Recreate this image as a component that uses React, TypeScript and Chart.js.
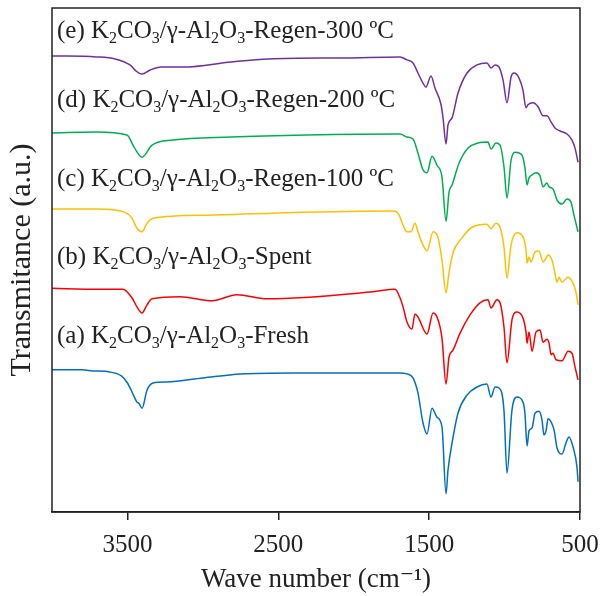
import { useEffect, useRef } from "react";
import { Chart, registerables } from "chart.js";
Chart.register(...registerables);

// (a) Fresh
const waveA = [4000,3800,3730,3620,3540,3500,3460,3437,3425,3403,3370,3330,3240,3000,2750,2400,1700,1647,1607,1574,1541,1514,1481,1448,1415,1388,1375,1348,1309,1249,1183,1117,1090,1063,1037,1004,984,951,918,878,865,851,838,818,798,772,752,739,725,712,692,672,652,619,593,573,546,520,513];
const transA = [28.2,28.2,28.0,27.8,27.0,25.6,23.2,21.8,21.6,20.6,24.2,25.6,25.8,26.6,27.4,27.6,27.6,27.4,26.6,23.6,17.7,15.5,20.6,18.8,16.9,3.6,8.3,13.7,19.6,23.2,24.8,25.4,22.8,24.8,24.6,20.2,7.7,20.2,22.8,21.8,19.6,13.1,16.1,16.7,19.6,20.0,18.3,15.3,16.1,18.5,17.9,16.3,12.7,11.5,13.7,14.9,12.9,8.9,6.0];

// (b) Spent
const waveB = [4000,3700,3530,3470,3437,3403,3370,3337,3151,2939,2774,2575,1872,1726,1693,1673,1647,1614,1594,1574,1514,1474,1448,1415,1388,1368,1342,1295,1229,1163,1110,1090,1050,1030,1004,984,951,918,878,858,851,838,818,792,765,745,719,705,692,679,659,619,579,553,533,513];
const transB = [44.4,44.2,44.2,42.5,40.7,39.5,41.1,42.3,42.7,41.9,43.1,42.3,43.7,44.2,42.5,40.7,37.7,36.3,39.3,38.7,35.3,39.5,38.7,34.5,25.4,30.8,32.1,35.5,39.1,41.5,42.1,40.5,42.1,41.5,36.7,29.6,38.1,39.7,38.5,35.7,33.5,35.7,31.9,35.7,36.1,33.7,34.3,33.5,31.2,31.5,30.2,30.0,31.9,31.5,28.8,26.2];

// (c) Regen-100
const waveC = [4000,3700,3520,3470,3437,3403,3370,3330,2973,2535,1740,1706,1693,1673,1647,1620,1594,1574,1541,1514,1474,1441,1415,1388,1368,1342,1282,1216,1117,1090,1057,1030,1004,984,957,918,878,858,851,838,825,798,772,745,725,712,686,666,652,639,619,579,546,526,513];
const transC = [60.1,60.1,59.5,58.3,56.3,55.6,57.3,58.3,58.9,59.3,59.7,59.3,58.5,56.9,55.6,55.6,57.3,55.6,53.0,51.8,55.6,54.4,50.0,43.5,47.6,51.4,54.4,56.5,57.1,56.2,57.3,56.5,52.6,46.4,53.0,55.4,54.6,52.0,49.4,50.6,49.6,51.6,51.8,49.6,50.4,51.0,50.0,47.4,45.6,46.6,45.6,46.6,45.4,43.5,41.1];

// (d) Regen-200
const waveD = [4000,3708,3503,3456,3403,3337,3198,2813,2310,1693,1647,1607,1574,1541,1514,1481,1448,1415,1388,1368,1348,1302,1242,1176,1110,1090,1057,1030,1004,984,957,931,884,865,851,838,818,792,765,745,719,705,679,652,619,586,560,540,513];
const transD = [75.2,75.4,74.8,72.4,70.4,72.8,73.8,74.4,74.8,75.0,74.4,74.0,71.2,67.9,67.3,70.6,68.8,66.5,57.7,63.5,64.9,69.2,72.2,73.2,73.4,72.0,73.2,72.8,68.5,62.3,69.8,71.4,70.8,68.3,64.9,66.3,66.9,67.3,66.7,64.5,65.3,64.5,64.1,61.9,61.1,62.1,61.5,58.9,55.6];

// (e) Regen-300
const waveE = [4000,3708,3582,3483,3443,3403,3350,3277,3125,2813,2562,2051,1693,1647,1607,1574,1541,1521,1488,1461,1421,1408,1388,1375,1348,1309,1249,1183,1117,1090,1063,1037,1010,984,957,938,904,878,858,845,811,778,745,719,692,666,632,586,553,533,513];
const transE = [90.5,90.3,89.9,88.7,87.5,86.9,87.7,88.3,88.3,89.3,89.9,90.1,90.3,89.7,89.1,87.1,85.1,84.3,86.5,84.1,80.8,78.2,73.0,76.8,78.2,83.1,87.1,88.7,89.1,88.1,88.7,88.3,85.7,81.2,86.3,87.1,86.1,83.7,80.2,80.8,81.2,80.4,78.6,78.6,77.4,76.2,75.6,75.0,73.8,72.2,69.4];

const xTicks = [3500, 2500, 1500, 500];
const seriesNames = ["(a) Fresh", "(b) Spent", "(c) Regen-100", "(d) Regen-200", "(e) Regen-300"];
const seriesColors = ["#0070C0", "#FF0000", "#FFC000", "#00B050", "#7030A0"];

// label text pieces: [text, isSubscript]
const labelTexts: [string, boolean][][] = [
  [["(a) K", false], ["2", true], ["CO", false], ["3", true], ["/γ-Al", false], ["2", true], ["O", false], ["3", true], ["-Fresh", false]],
  [["(b) K", false], ["2", true], ["CO", false], ["3", true], ["/γ-Al", false], ["2", true], ["O", false], ["3", true], ["-Spent", false]],
  [["(c) K", false], ["2", true], ["CO", false], ["3", true], ["/γ-Al", false], ["2", true], ["O", false], ["3", true], ["-Regen-100 ºC", false]],
  [["(d) K", false], ["2", true], ["CO", false], ["3", true], ["/γ-Al", false], ["2", true], ["O", false], ["3", true], ["-Regen-200 ºC", false]],
  [["(e) K", false], ["2", true], ["CO", false], ["3", true], ["/γ-Al", false], ["2", true], ["O", false], ["3", true], ["-Regen-300 ºC", false]],
];
const labelWave = 3967;
const labelLevels = [33.5, 49.2, 64.7, 80.4, 94.0];

const FONT = "'Liberation Serif', 'DejaVu Serif', serif";
const TEXT_COLOR = "#222";

export default function App() {
  const ref = useRef<HTMLCanvasElement | null>(null);
  useEffect(() => {
    const canvas = ref.current;
    if (!canvas) return;
    const waves = [waveA, waveB, waveC, waveD, waveE];
    const trans = [transA, transB, transC, transD, transE];

    const framePlugin = {
      id: "frame",
      afterDatasetsDraw(chart: any) {
        const { ctx, chartArea } = chart;
        ctx.save();
        ctx.strokeStyle = "#222";
        ctx.lineWidth = 1.5;
        ctx.strokeRect(chartArea.left, chartArea.top, chartArea.right - chartArea.left, chartArea.bottom - chartArea.top);
        ctx.restore();
      },
    };

    const labelPlugin = {
      id: "specLabels",
      afterDraw(chart: any) {
        const { ctx } = chart;
        const xs = chart.scales.x;
        const ys = chart.scales.y;
        ctx.save();
        ctx.fillStyle = TEXT_COLOR;
        ctx.textBaseline = "alphabetic";
        ctx.textAlign = "left";
        labelTexts.forEach((parts, i) => {
          let x = xs.getPixelForValue(labelWave);
          const y = ys.getPixelForValue(labelLevels[i]);
          parts.forEach(([t, sub]) => {
            ctx.font = sub ? `16px ${FONT}` : `25px ${FONT}`;
            ctx.fillText(t, x, sub ? y + 5 : y);
            x += ctx.measureText(t).width;
          });
        });
        ctx.restore();
      },
    };

    const chart = new Chart(canvas, {
      type: "line",
      data: {
        datasets: waves.map((w, i) => ({
          label: seriesNames[i],
          data: w.map((v, j) => ({ x: v, y: trans[i][j] })),
          borderColor: seriesColors[i],
          backgroundColor: seriesColors[i],
          borderWidth: 1.5,
          pointRadius: 0,
          cubicInterpolationMode: "monotone" as const,
          fill: false,
        })),
      },
      options: {
        responsive: false,
        animation: false,
        devicePixelRatio: 1,
        layout: { padding: { top: 8, right: 25, left: 0, bottom: 0 } },
        plugins: { legend: { display: false }, tooltip: { enabled: false } },
        scales: {
          x: {
            type: "linear",
            reverse: true,
            min: 500,
            max: 4000,
            afterBuildTicks: (scale: any) => {
              scale.ticks = xTicks.map((v) => ({ value: v }));
            },
            afterFit: (scale: any) => {
              scale.height = 84;
              scale.paddingLeft = 0;
              scale.paddingRight = 0;
            },
            ticks: {
              autoSkip: false,
              maxRotation: 0,
              padding: 10,
              color: TEXT_COLOR,
              font: { family: FONT, size: 25 },
              callback: (v: any) => String(v),
            },
            grid: {
              display: true,
              drawOnChartArea: false,
              drawTicks: true,
              tickLength: 8,
              color: "#222",
              lineWidth: 1.5,
            },
            border: { display: true, color: "#222", width: 1.5 },
            title: {
              display: true,
              text: "Wave number (cm⁻¹)",
              color: TEXT_COLOR,
              font: { family: FONT, size: 27 },
              padding: { top: 0, bottom: 0 },
            },
          },
          y: {
            type: "linear",
            min: 0,
            max: 100,
            afterFit: (scale: any) => {
              scale.width = 52;
            },
            ticks: { display: false },
            grid: { display: false, drawTicks: false },
            border: { display: false },
            title: {
              display: true,
              text: "Transmitance (a.u.)",
              color: TEXT_COLOR,
              font: { family: FONT, size: 30 },
              padding: { top: 4, bottom: 0 },
            },
          },
        },
      },
      plugins: [framePlugin, labelPlugin],
    });
    return () => chart.destroy();
  }, []);

  return (
    <div style={{ position: "fixed", left: 0, top: 0, width: 605, height: 596, background: "#fff" }}>
      <canvas ref={ref} width={605} height={596} />
    </div>
  );
}
